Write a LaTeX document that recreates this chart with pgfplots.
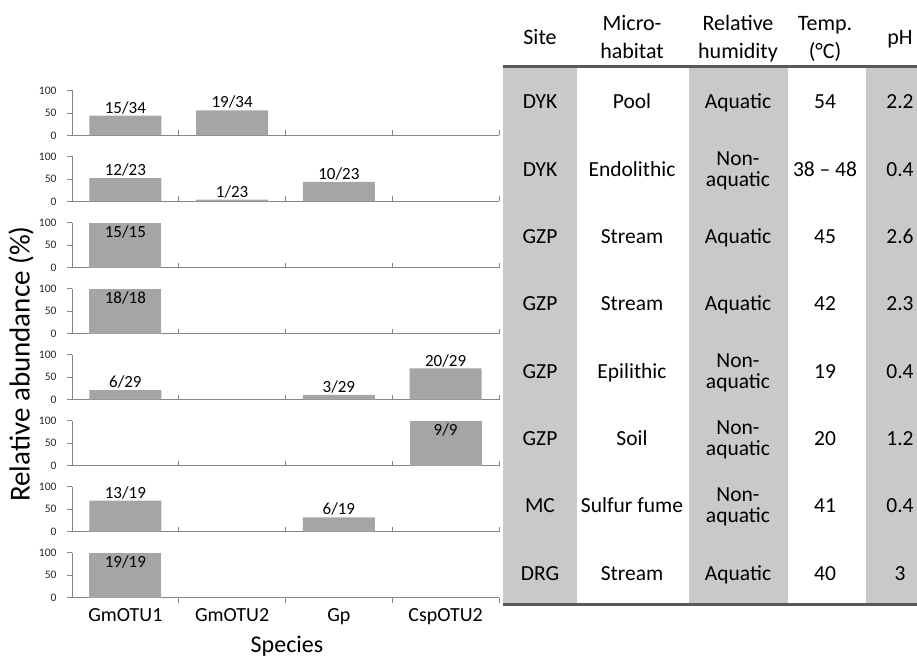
\documentclass[border=0pt]{standalone}
\usepackage{fontspec}
\setmainfont{Carlito}
\usepackage{pgfplots}
\pgfplotsset{compat=1.18}
\definecolor{barcol}{RGB}{165,165,165}
\definecolor{shadecol}{RGB}{201,201,201}
\definecolor{axcol}{RGB}{134,134,134}
\definecolor{rulecol}{RGB}{89,89,89}
\pgfplotsset{
  panel/.style={
    scale only axis, width=427pt, height=45pt, anchor=south west,
    xmin=0, xmax=4, ymin=0, ymax=100,
    axis x line*=bottom, axis y line*=left,
    axis line style={draw=axcol, line width=0.9pt, -},
    every tick/.style={draw=axcol, line width=0.9pt},
    tick align=outside, major tick length=5pt,
    xtick={1,2,3,4}, xticklabels={},
    ytick={0,50,100},
    yticklabel style={font=\fontsize{11.5}{11.5}\selectfont, text=black!85, xshift=-7pt},
    /pgf/number format/assume math mode=true,
    clip=false,
  },
  upper/.style={x tick style={yshift=5pt}},
  barplot/.style={ybar, bar width=0.675, fill=barcol, draw=none, bar shift=0pt,
    point meta=explicit symbolic, nodes near coords,
    nodes near coords style={font=\fontsize{17}{17}\selectfont, text=black, inner sep=1.5pt}},
  topplot/.style={barplot, nodes near coords align=below,
    nodes near coords style={inner sep=3pt}},
}
\tikzset{
  tb/.style={font=\fontsize{21.5}{21.5}\selectfont, anchor=base, inner sep=0pt},
  th/.style={font=\fontsize{22}{22}\selectfont, anchor=base, inner sep=0pt},
}
\begin{document}
\begin{tikzpicture}[x=1pt,y=1pt]
\useasboundingbox (0pt,0pt) rectangle (917pt,-660pt);
% ---- table shading and rules
\fill[shadecol] (503pt,-67pt) rectangle (577pt,-604pt);
\fill[shadecol] (689pt,-67pt) rectangle (788pt,-604pt);
\fill[shadecol] (866pt,-67pt) rectangle (917pt,-604pt);
\draw[rulecol, line width=2.5pt] (503pt,-66.5pt) -- (917pt,-66.5pt);
\draw[rulecol, line width=2.5pt] (503pt,-604.5pt) -- (917pt,-604.5pt);
% ---- header
\node[th] at (540pt,-45pt) {Site};
\node[th] at (632pt,-31pt) {Micro-};
\node[th] at (632pt,-59pt) {habitat};
\node[th] at (738pt,-31pt) {Relative};
\node[th] at (738pt,-59pt) {humidity};
\node[th] at (825pt,-31pt) {Temp.};
\node[th] at (825pt,-59pt) {(°C)};
\node[th] at (900pt,-45pt) {pH};
% ---- rows
\node[tb] at (540pt,-109pt) {DYK};
\node[tb] at (632pt,-109pt) {Pool};
\node[tb] at (738pt,-109pt) {Aquatic};
\node[tb] at (825pt,-109pt) {54};
\node[tb] at (900pt,-109pt) {2.2};
\node[tb] at (540pt,-176.3pt) {DYK};
\node[tb] at (632pt,-176.3pt) {Endolithic};
\node[tb] at (738pt,-165.3pt) {Non-};
\node[tb] at (738pt,-186.3pt) {aquatic};
\node[tb] at (825pt,-176.3pt) {38 – 48};
\node[tb] at (900pt,-176.3pt) {0.4};
\node[tb] at (540pt,-243.6pt) {GZP};
\node[tb] at (632pt,-243.6pt) {Stream};
\node[tb] at (738pt,-243.6pt) {Aquatic};
\node[tb] at (825pt,-243.6pt) {45};
\node[tb] at (900pt,-243.6pt) {2.6};
\node[tb] at (540pt,-310.9pt) {GZP};
\node[tb] at (632pt,-310.9pt) {Stream};
\node[tb] at (738pt,-310.9pt) {Aquatic};
\node[tb] at (825pt,-310.9pt) {42};
\node[tb] at (900pt,-310.9pt) {2.3};
\node[tb] at (540pt,-378.2pt) {GZP};
\node[tb] at (632pt,-378.2pt) {Epilithic};
\node[tb] at (738pt,-367.2pt) {Non-};
\node[tb] at (738pt,-388.2pt) {aquatic};
\node[tb] at (825pt,-378.2pt) {19};
\node[tb] at (900pt,-378.2pt) {0.4};
\node[tb] at (540pt,-445.5pt) {GZP};
\node[tb] at (632pt,-445.5pt) {Soil};
\node[tb] at (738pt,-434.5pt) {Non-};
\node[tb] at (738pt,-455.5pt) {aquatic};
\node[tb] at (825pt,-445.5pt) {20};
\node[tb] at (900pt,-445.5pt) {1.2};
\node[tb] at (540pt,-512.8pt) {MC};
\node[tb] at (632pt,-512.8pt) {Sulfur fume};
\node[tb] at (738pt,-501.8pt) {Non-};
\node[tb] at (738pt,-522.8pt) {aquatic};
\node[tb] at (825pt,-512.8pt) {41};
\node[tb] at (900pt,-512.8pt) {0.4};
\node[tb] at (540pt,-580.1pt) {DRG};
\node[tb] at (632pt,-580.1pt) {Stream};
\node[tb] at (738pt,-580.1pt) {Aquatic};
\node[tb] at (825pt,-580.1pt) {40};
\node[tb] at (900pt,-580.1pt) {3};
% ---- panels
\begin{axis}[panel, upper, at={(72pt,-135.5pt)}]
\addplot[barplot] coordinates {(0.5,44.1) [15/34] (1.5,55.9) [19/34]};
\end{axis}
\begin{axis}[panel, upper, at={(72pt,-201.5pt)}]
\addplot[barplot] coordinates {(0.5,52.2) [12/23] (1.5,4.3) [1/23] (2.5,43.5) [10/23]};
\end{axis}
\begin{axis}[panel, upper, at={(72pt,-267.5pt)}]
\addplot[topplot] coordinates {(0.5,100) [15/15]};
\end{axis}
\begin{axis}[panel, upper, at={(72pt,-333.5pt)}]
\addplot[topplot] coordinates {(0.5,100) [18/18]};
\end{axis}
\begin{axis}[panel, upper, at={(72pt,-399.5pt)}]
\addplot[barplot] coordinates {(0.5,20.7) [6/29] (2.5,10.3) [3/29] (3.5,69.0) [20/29]};
\end{axis}
\begin{axis}[panel, upper, at={(72pt,-465.5pt)}]
\addplot[topplot] coordinates {(3.5,100) [9/9]};
\end{axis}
\begin{axis}[panel, upper, at={(72pt,-531.5pt)}]
\addplot[barplot] coordinates {(0.5,68.4) [13/19] (2.5,31.6) [6/19]};
\end{axis}
\begin{axis}[panel, at={(72pt,-597.5pt)},
  extra x ticks={0.5,1.5,2.5,3.5},
  extra x tick labels={GmOTU1,GmOTU2,Gp,CspOTU2},
  extra x tick style={major tick length=0pt,
    tick label style={font=\fontsize{20}{20}\selectfont, text=black, yshift=-7pt}}]
\addplot[topplot] coordinates {(0.5,100) [19/19]};
\end{axis}
% ---- axis titles
\node[rotate=90, font=\fontsize{29}{29}\selectfont] at (21pt,-364pt) {Relative abundance (\%)};
\node[anchor=base, font=\fontsize{24}{24}\selectfont] at (287pt,-652pt) {Species};
\end{tikzpicture}
\end{document}
